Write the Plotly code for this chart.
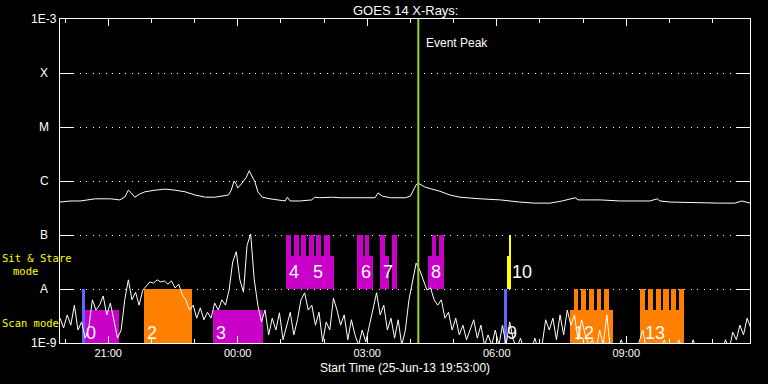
import pandas as pd
import plotly.graph_objects as go

START = pd.Timestamp("2013-06-25 19:53:00")
END = pd.Timestamp("2013-06-26 11:52:00")
PEAK = pd.Timestamp("2013-06-26 04:11:00")

# ---- long channel (1-8 A), minutes after start / log10 flux
long_min = [0, 14, 28, 42, 49, 70, 83, 90, 95, 99,
            104, 111, 118, 132, 146, 160, 174, 188, 202, 215,
            225, 234, 238, 242, 245, 247, 253, 259, 263, 267,
            271, 275, 281, 292, 313, 316, 320, 334, 350, 354,
            361, 379, 389, 417, 438, 442, 448, 459, 480, 487,
            491, 495, 498, 507, 517, 528, 542, 556, 584, 612,
            639, 660, 681, 698, 716, 720, 737, 751, 778, 820,
            830, 834, 848, 890, 917, 938, 948, 959]
long_log = [-6.39, -6.37, -6.37, -6.35, -6.33, -6.33, -6.35, -6.30, -6.17, -6.22,
            -6.30, -6.24, -6.20, -6.17, -6.15, -6.17, -6.20, -6.26, -6.30, -6.30,
            -6.28, -6.26, -6.17, -6.00, -6.06, -6.13, -6.04, -5.93, -5.81, -5.91,
            -6.02, -6.20, -6.30, -6.33, -6.37, -6.30, -6.37, -6.37, -6.35, -6.30,
            -6.31, -6.30, -6.31, -6.31, -6.31, -6.22, -6.28, -6.31, -6.31, -6.28,
            -6.17, -6.07, -6.04, -6.11, -6.15, -6.19, -6.26, -6.30, -6.33, -6.35,
            -6.39, -6.41, -6.41, -6.37, -6.31, -6.35, -6.35, -6.35, -6.37, -6.37,
            -6.33, -6.37, -6.39, -6.41, -6.41, -6.41, -6.37, -6.41]

# ---- short channel (0.5-4 A), 5-minute samples, log10 flux
short_step_min = 5
short_log = [-8.54, -8.72, -8.48, -8.67, -8.30, -8.76, -8.61, -8.91, -8.72, -8.20,
             -8.39, -8.30, -8.13, -8.48, -8.26, -8.61, -8.91, -8.76, -8.20, -7.83,
             -8.20, -8.06, -8.30, -8.02, -7.94, -7.87, -7.89, -7.83, -7.87, -7.85,
             -7.91, -7.85, -7.98, -7.91, -8.11, -8.20, -8.39, -8.30, -8.54, -8.35,
             -8.57, -8.43, -8.54, -8.26, -8.39, -8.20, -8.30, -8.02, -7.50, -7.31,
             -7.83, -8.06, -7.19, -6.98, -7.83, -8.30, -8.61, -8.39, -8.85, -8.54,
             -8.76, -8.44, -8.94, -8.67, -8.43, -8.85, -8.57, -8.20, -8.07, -8.39,
             -8.30, -8.67, -8.43, -8.98, -8.61, -8.76, -8.17, -8.39, -8.67, -8.48,
             -8.94, -8.57, -8.85, -9.04, -8.76, -8.98, -8.67, -8.39, -8.07, -8.48,
             -8.30, -8.76, -8.54, -8.91, -8.57, -9.04, -8.76, -8.20, -7.83, -7.52,
             -7.65, -7.83, -8.02, -7.98, -8.20, -8.30, -8.20, -8.54, -8.43, -8.76,
             -8.54, -8.85, -8.67, -8.94, -8.76, -8.57, -8.91, -8.67, -9.04, -8.85,
             -9.04, -8.76, -9.04, -8.67, -9.04, -8.61, -8.94, -9.09, -8.91, -9.13,
             -9.04, -9.13, -8.91, -9.13, -9.04, -8.57, -8.76, -8.54, -8.94, -8.48,
             -8.85, -8.39, -8.67, -8.48, -8.94, -8.57, -8.85, -9.04, -8.94, -9.13,
             -8.76, -9.04, -8.48, -9.13, -9.04, -9.13, -8.94, -9.13, -9.13, -9.04,
             -9.13, -8.98, -8.76, -9.13, -9.13, -9.13, -9.04, -9.13, -8.94, -9.13,
             -9.13, -9.13, -8.94, -9.13, -9.13, -9.13, -8.94, -9.13, -9.13, -9.13,
             -9.04, -9.13, -9.13, -9.13, -9.13, -8.94, -9.13, -8.80, -8.94, -8.67,
             -8.85, -8.54, -8.72]

# ---- observation blocks: start/end minutes, bottom/top (log10 flux), kind
blk_start = [30.6, 34.3, 116.8, 212.3,
             314.1, 314.1, 324.8, 335.3, 345.7, 356.1, 366.5,
             412.4, 412.4, 424.4,
             444.8, 444.8, 461.1,
             511.1, 516.7, 526.8,
             617.2, 621.3, 624.5,
             708.9, 714.5, 724.6, 735.3, 745.9, 756.2,
             806.2, 806.2, 817.3, 828.0, 838.6, 849.7, 860.0]
blk_end = [34.3, 82.0, 183.5, 281.8,
           380.9, 321.1, 331.5, 341.9, 352.4, 362.8, 375.3,
           435.5, 420.7, 430.0,
           457.7, 451.8, 468.8,
           533.8, 522.6, 533.8,
           620.9, 625.5, 625.5,
           768.2, 720.0, 731.1, 741.8, 752.4, 762.7,
           867.4, 813.2, 824.7, 835.0, 846.1, 856.2, 867.4]
blk_bottom = [-9, -9, -9, -9,
              -8, -8, -8, -8, -8, -8, -8,
              -8, -8, -8,
              -8, -8, -8,
              -8, -8, -8,
              -9, -8, -8,
              -9, -9, -9, -9, -9, -9,
              -9, -9, -9, -9, -9, -9, -9]
blk_top = [-8, -8.39, -8, -8.39,
           -7.39, -7, -7, -7, -7, -7, -7,
           -7.39, -7, -7,
           -7.39, -7, -7,
           -7.39, -7, -7,
           -8, -7.39, -7,
           -8.39, -8, -8, -8, -8, -8,
           -8.39, -8, -8, -8, -8, -8, -8]
blk_kind = ["blue", "magenta", "orange", "magenta",
            "magenta", "magenta", "magenta", "magenta", "magenta", "magenta", "magenta",
            "magenta", "magenta", "magenta",
            "magenta", "magenta", "magenta",
            "magenta", "magenta", "magenta",
            "blue", "yellow", "yellow",
            "orange", "orange", "orange", "orange", "orange", "orange",
            "orange", "orange", "orange", "orange", "orange", "orange", "orange"]

# ---- observation number labels
obs_label = ["0", "2", "3", "4", "5", "6", "7", "8", "9", "10", "12", "13"]
obs_label_min = [33.4, 117.7, 214.0, 315.0, 348.5, 415.2, 445.7, 512.4, 618.6, 625.5, 711.2, 809.9]
obs_label_log = [-8.81, -8.81, -8.81, -7.69, -7.69, -7.69, -7.69, -7.69, -8.81, -7.69, -8.81, -8.81]

# ---- axis labels
class_vals = [-3, -4, -5, -6, -7, -8, -9]
class_text = ["1E-3", "X", "M", "C", "B", "A", "1E-9"]
hour_ticks = ["2013-06-25 21:00", "2013-06-26 00:00", "2013-06-26 03:00",
              "2013-06-26 06:00", "2013-06-26 09:00"]

COLORS = {"magenta": "#c800c8", "orange": "#ff8000", "blue": "#6464ff", "yellow": "#ffff00"}
FONT = "Liberation Sans"
MONO = "DejaVu Sans Mono"


def t(m):
    return START + pd.to_timedelta(m, unit="min")


fig = go.Figure()

for kind, col in COLORS.items():
    idx = [i for i, k in enumerate(blk_kind) if k == kind]
    fig.add_trace(go.Bar(
        x=[t((blk_start[i] + blk_end[i]) / 2) for i in idx],
        width=[(blk_end[i] - blk_start[i]) * 60000 for i in idx],
        base=[blk_bottom[i] for i in idx],
        y=[blk_top[i] - blk_bottom[i] for i in idx],
        marker=dict(color=col, line=dict(width=0)),
        showlegend=False, hoverinfo="skip"))

short_time = [t(i * short_step_min) for i in range(len(short_log))]
fig.add_trace(go.Scatter(x=short_time, y=short_log, mode="lines",
                         line=dict(color="white", width=1), showlegend=False))
fig.add_trace(go.Scatter(x=[t(m) for m in long_min], y=long_log, mode="lines",
                         line=dict(color="white", width=1), showlegend=False))

fig.add_shape(type="line", x0=PEAK, x1=PEAK, yref="paper", y0=0, y1=1,
              line=dict(color="#9acd32", width=2), layer="above")

ann = []
for v, s in zip(class_vals, class_text):
    ann.append(dict(xref="paper", x=0, xshift=-16, xanchor="center", yref="y", y=v,
                    text=s, showarrow=False, font=dict(color="white", size=12, family=FONT)))
for s, m, v in zip(obs_label, obs_label_min, obs_label_log):
    ann.append(dict(xref="x", x=t(m), xanchor="left", yref="y", y=v, text=s,
                    showarrow=False, font=dict(color="white", size=18, family=FONT)))
ann += [
    dict(xref="x", x=PEAK, xanchor="left", xshift=6, yref="y", y=-3.44, text="Event Peak",
         showarrow=False, font=dict(color="white", size=12, family=FONT)),
    dict(xref="paper", x=0, xshift=-60, xanchor="left", yref="y", y=-7.43, text="Sit & Stare",
         showarrow=False, font=dict(color="#ffff00", size=10.5, family=MONO)),
    dict(xref="paper", x=0, xshift=-49, xanchor="left", yref="y", y=-7.67, text="mode",
         showarrow=False, font=dict(color="#ffff00", size=10.5, family=MONO)),
    dict(xref="paper", x=0, xshift=-60, xanchor="left", yref="y", y=-8.63, text="Scan mode",
         showarrow=False, font=dict(color="#ffff00", size=10.5, family=MONO)),
    dict(xref="paper", x=0.5, yref="paper", y=1, yshift=9, yanchor="middle",
         text="GOES 14 X-Rays:", showarrow=False, font=dict(color="white", size=13, family=FONT)),
    dict(xref="paper", x=0.5, yref="paper", y=0, yshift=-25, yanchor="middle",
         text="Start Time (25-Jun-13 19:53:00)", showarrow=False,
         font=dict(color="white", size=12, family=FONT)),
]

fig.update_layout(
    width=768, height=384,
    margin=dict(l=60, r=18, t=19, b=41),
    paper_bgcolor="black", plot_bgcolor="black",
    barmode="overlay", bargap=0,
    annotations=ann,
    xaxis=dict(type="date", range=[START, END], tickvals=hour_ticks, tickformat="%H:%M",
               ticks="inside", ticklen=7, tickcolor="white", tickwidth=1,
               showline=True, linecolor="white", linewidth=1, mirror="ticks",
               showgrid=False, zeroline=False,
               tickfont=dict(color="white", size=11, family=FONT),
               minor=dict(ticks="inside", ticklen=4, tickcolor="white", dtick=3600000,
                          tick0="2013-06-25 21:00", showgrid=False)),
    yaxis=dict(range=[-9, -3], tickvals=class_vals, showticklabels=False,
               ticks="inside", ticklen=14, tickcolor="white", tickwidth=1,
               showline=True, linecolor="white", linewidth=1, mirror="ticks",
               showgrid=True, gridcolor="white", gridwidth=1, griddash="1px,5.5px",
               zeroline=False),
)

fig.write_html("out.html", config={"displayModeBar": False},
               post_script="document.body.style.margin='0';document.body.style.background='black';")
